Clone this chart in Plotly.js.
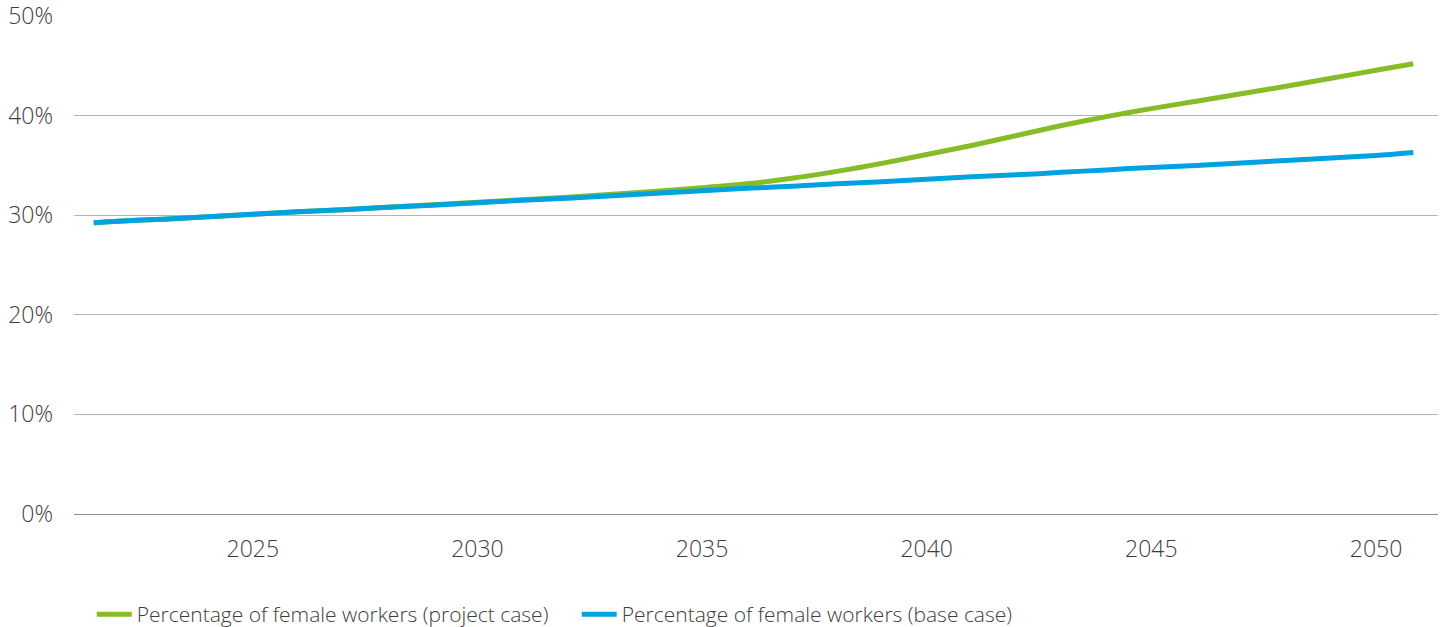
<!DOCTYPE html>
<html>
<head>
<meta charset="utf-8">
<script src="https://cdn.plot.ly/plotly-3.0.1.min.js"></script>
<style>
  html, body { margin: 0; padding: 0; background: #ffffff; }
  #chart { width: 1446px; height: 627px; }
</style>
</head>
<body>
<div id="chart"></div>
<script>
// Years (x positions of the plotted points)
const years = [2021.46, 2022, 2023, 2024, 2025, 2026, 2027, 2028, 2029, 2030,
               2031, 2032, 2033, 2034, 2035, 2036, 2037, 2038, 2039, 2040,
               2041, 2042, 2043, 2044, 2045, 2046, 2047, 2048, 2049, 2050, 2050.83];

// Percentage of female workers (project case)
const projectCase = [29.25, 29.4, 29.6, 29.85, 30.1, 30.35, 30.55, 30.8, 31.05, 31.3,
                     31.55, 31.8, 32.1, 32.4, 32.75, 33.15, 33.7, 34.4, 35.2, 36.1,
                     37.0, 38.0, 39.0, 39.9, 40.7, 41.45, 42.2, 42.95, 43.75, 44.55, 45.2];

// Percentage of female workers (base case)
const baseCase = [29.25, 29.4, 29.6, 29.85, 30.1, 30.35, 30.55, 30.8, 31.0, 31.25,
                  31.5, 31.7, 31.95, 32.2, 32.45, 32.7, 32.9, 33.15, 33.35, 33.6,
                  33.85, 34.05, 34.3, 34.55, 34.8, 35.0, 35.25, 35.5, 35.75, 36.0, 36.3];

const xTickVals = [2025, 2030, 2035, 2040, 2045, 2050];
const xTickText = ['2025', '2030', '2035', '2040', '2045', '2050'];
const yTickVals = [0, 10, 20, 30, 40, 50];
const yTickText = ['0%', '10%', '20%', '30%', '40%', '50%'];

const seriesNames = ['Percentage of female workers (project case)',
                     'Percentage of female workers (base case)'];

const FONT = '"Open Sans", "Noto Sans", sans-serif';
const TEXT_COLOR = '#3d3d3d';

const traces = [
  {
    x: years, y: projectCase, type: 'scatter', mode: 'lines',
    name: seriesNames[0],
    line: { color: '#86BC25', width: 5, shape: 'spline', smoothing: 0.8 },
    hoverinfo: 'skip'
  },
  {
    x: years, y: baseCase, type: 'scatter', mode: 'lines',
    name: seriesNames[1],
    line: { color: '#00A3E0', width: 5, shape: 'spline', smoothing: 0.8 },
    hoverinfo: 'skip'
  }
];

const layout = {
  width: 1446, height: 627,
  paper_bgcolor: '#ffffff', plot_bgcolor: '#ffffff',
  margin: { l: 74, r: 8, t: 16, b: 113, autoexpand: false },
  font: { family: FONT, color: TEXT_COLOR, size: 20, weight: 300 },
  showlegend: true,
  xaxis: {
    range: [2021.02, 2051.38],
    tickmode: 'array', tickvals: xTickVals, ticktext: xTickText,
    showgrid: false, zeroline: false,
    showline: true, linecolor: '#8c8c8c', linewidth: 1,
    ticks: '', ticklabelstandoff: 14,
    ticklabeloverflow: 'allow',
    tickfont: { family: FONT, size: 23, color: TEXT_COLOR, weight: 300 },
    fixedrange: true
  },
  yaxis: {
    range: [0, 50],
    tickmode: 'array', tickvals: yTickVals, ticktext: yTickText,
    showgrid: true, gridcolor: '#b4b4b4', gridwidth: 1,
    zeroline: false, showline: false,
    ticks: '', ticklabelstandoff: 20,
    ticklabeloverflow: 'allow',
    tickfont: { family: FONT, size: 23, color: TEXT_COLOR, weight: 300 },
    fixedrange: true
  },
  legend: {
    orientation: 'h',
    x: 0.013, xanchor: 'left',
    y: -0.202, yanchor: 'middle',
    font: { family: FONT, size: 21, color: TEXT_COLOR, weight: 300 },
    entrywidth: 435,
    entrywidthmode: 'pixels',
    itemwidth: 35,
    traceorder: 'normal',
    bgcolor: 'rgba(0,0,0,0)'
  }
};

Plotly.newPlot('chart', traces, layout, { displayModeBar: false, staticPlot: true });
</script>
</body>
</html>
